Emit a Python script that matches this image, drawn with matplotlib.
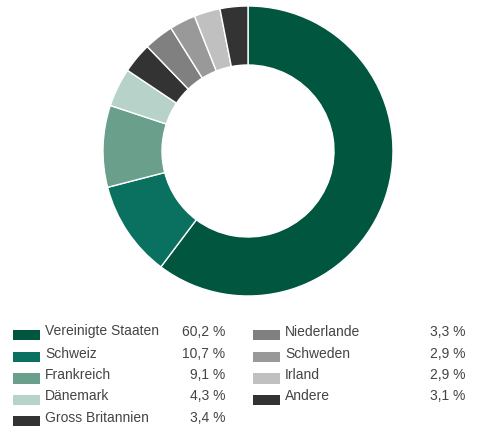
import matplotlib
matplotlib.use("Agg")
import matplotlib.pyplot as plt
from matplotlib.patches import Rectangle

plt.rcParams['font.family'] = ['Liberation Sans', 'DejaVu Sans']

categories = ["Vereinigte Staaten", "Schweiz", "Frankreich", "Dänemark", "Gross Britannien",
              "Niederlande", "Schweden", "Irland", "Andere"]
values = [60.2, 10.7, 9.1, 4.3, 3.4, 3.3, 2.9, 2.9, 3.1]
labels = ["60,2 %", "10,7 %", "9,1 %", "4,3 %", "3,4 %", "3,3 %", "2,9 %", "2,9 %", "3,1 %"]
colors = ["#00563f", "#0a7060", "#6a9f8c", "#b7d3c9", "#333333",
          "#808080", "#999999", "#c0c0c0", "#333333"]

W, H = 488, 428
fig = plt.figure(figsize=(W / 100, H / 100), dpi=100)

cx, cy, r = 248, 151, 145
ax = fig.add_axes([(cx - r) / W, (H - cy - r) / H, 2 * r / W, 2 * r / H])
ax.pie(values, colors=colors, startangle=90, counterclock=False,
       wedgeprops=dict(width=59 / 145, edgecolor="white", linewidth=1.0), radius=1)
ax.set_xlim(-1, 1)
ax.set_ylim(-1, 1)
ax.set_aspect("equal")
ax.axis("off")

lax = fig.add_axes([0, 0, 1, 1])
lax.set_xlim(0, W)
lax.set_ylim(H, 0)
lax.axis("off")

rows_y = [331.5, 353.5, 375, 396.5, 417.5]
cols = [(13, 45, 225), (253, 285, 465)]
for i, (cat, lab, col) in enumerate(zip(categories, labels, colors)):
    c = 0 if i < 5 else 1
    row = i if i < 5 else i - 5
    px, tx, vx = cols[c]
    y = rows_y[row]
    lax.add_patch(Rectangle((px, y - 2), 27, 10.5, facecolor=col, edgecolor="none"))
    lax.text(tx, y, cat, fontsize=10, color="#444444", va="center", ha="left")
    lax.text(vx, y, lab, fontsize=10, color="#444444", va="center", ha="right")

fig.savefig("out.png", dpi=100)
